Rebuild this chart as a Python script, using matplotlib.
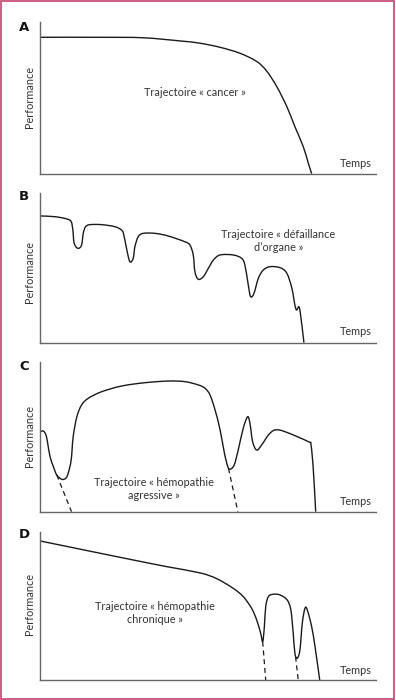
import matplotlib
matplotlib.use("Agg")
import matplotlib.pyplot as plt
from matplotlib.patches import Rectangle, PathPatch
from matplotlib.path import Path

plt.rcParams['font.family'] = ['Lato', 'DejaVu Sans']

# time (0-100) / performance (0-100)
a_t = [0, 17.8, 30.6, 41.7, 47.6, 53.6, 59.5, 64.5, 67.5, 70.5, 73.5, 75.9, 78.4, 79.9, 80.9]
a_p = [89.9, 89.9, 89.6, 87.5, 86.0, 83.3, 79.4, 74.0, 67.6, 57.4, 44.2, 31.0, 17.8, 6.9, 0]

b_t = [0, 4.4, 7.9, 9.2, 9.7, 10.1, 11.2, 12.3, 12.8, 13.5, 14.8, 18.3, 22.3, 24.4, 25.0,
       25.8, 26.7, 27.7, 28.2, 29.2, 30.7, 34.2, 38.2, 43.1, 44.6, 45.6, 46.1, 47.1, 48.6,
       50.1, 51.6, 53.6, 57.5, 60.0, 61.0, 62.0, 62.7, 63.7, 65.0, 66.5, 68.5, 71.5, 73.5,
       75.0, 75.9, 76.4, 77.1, 77.6, 78.6]
b_p = [84.5, 84.0, 82.5, 80.7, 75.1, 66.3, 62.9, 65.1, 72.9, 77.3, 78.7, 78.7, 77.3, 74.7, 70.7,
       61.8, 54.0, 56.3, 64.0, 70.7, 72.9, 72.9, 71.1, 67.3, 65.1, 58.5, 47.3, 42.3, 44.0,
       49.6, 55.1, 58.5, 58.5, 56.3, 51.8, 38.5, 30.7, 32.9, 42.9, 48.5, 50.7, 50.0, 46.3,
       36.3, 25.1, 21.8, 24.0, 18.5, 0]

c_t = [0, 0.9, 1.7, 2.2, 2.9, 3.9, 4.9, 6.4, 7.6, 8.3, 9.2, 9.8, 10.9, 12.3, 14.3, 18.3,
       24.3, 31.2, 38.2, 43.1, 47.1, 49.1, 50.6, 52.1, 53.6, 54.9, 55.9, 56.6, 57.8, 59.0,
       60.5, 61.8, 62.5, 63.3, 64.5, 66.0, 68.0, 70.0, 73.0, 79.9, 80.7, 81.4, 82.1]
c_p = [53.3, 53.8, 51.1, 45.6, 36.7, 30.0, 24.5, 21.6, 22.3, 25.6, 34.5, 50.0, 63.3, 71.1, 75.6, 80.0,
       83.8, 86.0, 87.1, 86.7, 84.5, 82.3, 77.8, 67.8, 54.5, 38.9, 30.0, 28.3, 31.1, 41.1,
       55.6, 63.3, 58.9, 46.7, 41.1, 44.5, 51.1, 54.5, 53.3, 46.7, 44.5, 27.8, 0]
c_dash = [([4.9, 9.3], [24.5, 0]), ([56.1, 58.9], [28.9, 0])]

d_t = [0, 13.8, 27.7, 37.7, 47.6, 52.6, 57.5, 60.5, 63.0, 64.5, 65.7, 66.3, 66.8, 67.2, 68.0, 69.5,
       71.5, 73.6, 74.7, 75.4, 75.9, 76.6, 77.4, 78.1, 78.9, 79.6, 80.9, 81.9, 83.3]
d_p = [93.7, 87.3, 80.9, 76.4, 72.2, 68.3, 61.8, 56.2, 48.3, 40.5, 31.5, 25.8, 35.9, 49.4, 56.2, 57.8,
       57.3, 53.9, 47.2, 31.5, 18.0, 14.6, 20.2, 38.2, 48.3, 47.2, 35.9, 22.5, 0]
d_dash = [([66.3, 67.2], [25.8, 0]), ([76.1, 76.9], [15.7, 0])]

letters = ['A', 'B', 'C', 'D']
titles = ["Trajectoire « cancer »",
          "Trajectoire « défaillance\nd’organe »",
          "Trajectoire « hémopathie\nagressive »",
          "Trajectoire « hémopathie\nchronique »"]
title_pos = [(46.1, 53.2), (71.0, 67.8), (33.9, 15.3), (34.3, 45.2)]
temps_y = [6.9, 7.3, 6.7, 6.7]
perf_y = [0.506, 0.473, 0.506, 0.512]
curves = [(a_t, a_p, []), (b_t, b_p, []), (c_t, c_p, c_dash), (d_t, d_p, d_dash)]

# axes boxes in figure fraction: bottom, height
boxes = [(0.7519, 0.2167), (0.5104, 0.2143), (0.2690, 0.2143), (0.0286, 0.2119)]
letter_y = [0.961, 0.719, 0.476, 0.236]


def smooth_path(xs, ys):
    # Catmull-Rom through the read points, as cubic bezier segments
    pts = list(zip(xs, ys))
    verts = [pts[0]]
    codes = [Path.MOVETO]
    n = len(pts)
    for k in range(n - 1):
        p0 = pts[k - 1] if k > 0 else pts[k]
        p1 = pts[k]
        p2 = pts[k + 1]
        p3 = pts[k + 2] if k + 2 < n else pts[k + 1]
        c1 = (p1[0] + (p2[0] - p0[0]) / 6, p1[1] + (p2[1] - p0[1]) / 6)
        c2 = (p2[0] - (p3[0] - p1[0]) / 6, p2[1] - (p3[1] - p1[1]) / 6)
        verts += [c1, c2, p2]
        codes += [Path.CURVE4] * 3
    return Path(verts, codes)


fig = plt.figure(figsize=(3.96, 7.0), dpi=100)
fig.patches.append(Rectangle((0.002, 0.002), 0.994, 0.996, transform=fig.transFigure,
                             fill=False, edgecolor='#c9507c', lw=1.3))

for i in range(4):
    bot, h = boxes[i]
    ax = fig.add_axes([0.1018, bot, 0.847, h])
    t, p, dashes = curves[i]
    ax.add_patch(PathPatch(smooth_path(t, p), fill=False, edgecolor='#1a1a1a', lw=1.0,
                           joinstyle='round', capstyle='butt', clip_on=False))
    for dx, dy in dashes:
        ax.plot(dx, dy, color='#1a1a1a', lw=0.9, ls=(0, (4, 3)))
    ax.set_xlim(0, 100)
    ax.set_ylim(0, 100)
    for s in ['top', 'right']:
        ax.spines[s].set_visible(False)
    for s in ['left', 'bottom']:
        ax.spines[s].set_color('#666666')
        ax.spines[s].set_linewidth(1.0)
    ax.set_xticks([])
    ax.set_yticks([])
    ax.text(title_pos[i][0], title_pos[i][1], titles[i], ha='center', va='center',
            fontsize=7.8, color='#333333', linespacing=1.2)
    ax.text(94.1, temps_y[i], "Temps", ha='center', va='center', fontsize=7.8, color='#333333')
    ax.text(-0.031, perf_y[i], "Performance", transform=ax.transAxes, rotation=90,
            ha='center', va='center', fontsize=7.8, color='#333333')
    fig.text(0.0606, letter_y[i], letters[i], ha='center', va='center',
             fontsize=9.5, fontweight='bold', family='DejaVu Sans', color='#111111')

fig.savefig('out.png', dpi=100)
